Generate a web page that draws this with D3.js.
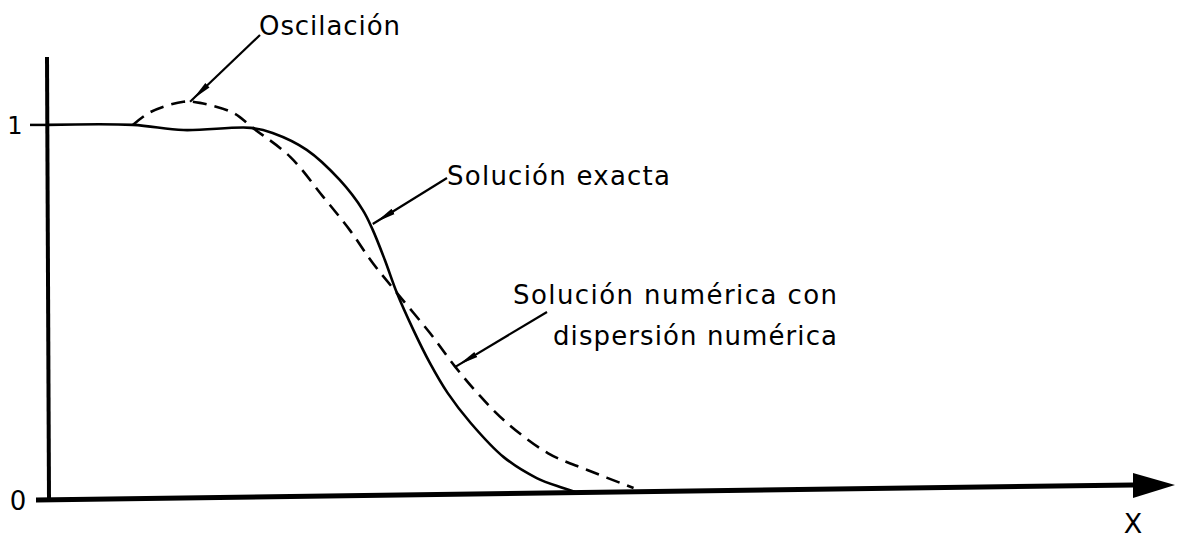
<!DOCTYPE html>
<html>
<head>
<meta charset="utf-8">
<script src="https://cdn.jsdelivr.net/npm/d3@7"></script>
<style>
  body { margin: 0; background: #fff; }
  text { font-family: "DejaVu Sans", sans-serif; fill: #000; }
</style>
</head>
<body>
<div id="chart"></div>
<script>
// curve values (x in arbitrary units, y normalised 0..1)
var exactX = [0, 0.78, 1.24, 1.85, 2.05, 2.36, 2.66, 2.87, 2.96, 3.07, 3.18, 3.33, 3.48, 3.64, 3.85, 4.15, 4.45, 4.69, 4.8];
var exactY = [1, 1, 0.986, 0.992, 0.978, 0.932, 0.85, 0.768, 0.714, 0.632, 0.542, 0.441, 0.351, 0.27, 0.188, 0.095, 0.038, 0.011, 0];

var numX = [0.78, 0.94, 1.24, 1.39, 1.69, 1.87, 2.21, 2.51, 2.75, 2.96, 3.18, 3.48, 3.71, 3.91, 4.15, 4.55, 4.91, 5.33];
var numY = [1, 1.035, 1.063, 1.06, 1.033, 0.992, 0.913, 0.804, 0.714, 0.624, 0.542, 0.433, 0.341, 0.27, 0.196, 0.106, 0.06, 0.011];

var tickValues = [0, 1];
var tickLabels = ["0", "1"];

var width = 1186, height = 538;

var x = d3.scaleLinear().domain([0, 10.25]).range([47, 1175]);
var y = d3.scaleLinear().domain([0, 1.185]).range([492, 57]);

var svg = d3.select("#chart").append("svg")
    .attr("width", width)
    .attr("height", height);

svg.append("defs").append("marker")
    .attr("id", "head")
    .attr("viewBox", "0 0 20 10")
    .attr("refX", 24)
    .attr("refY", 5)
    .attr("markerWidth", 20)
    .attr("markerHeight", 10)
    .attr("markerUnits", "userSpaceOnUse")
    .attr("orient", "auto")
    .append("path")
    .attr("d", "M0,2 L20,5 L0,8 Z")
    .attr("fill", "#000");

// y axis
svg.append("line")
    .attr("x1", x(0)).attr("x2", x(0) + 2)
    .attr("y1", y(1.185)).attr("y2", y(0) + 8)
    .attr("stroke", "#000").attr("stroke-width", 4);

// x axis, a touch tilted like the drawing
svg.append("line")
    .attr("x1", x(0) - 11).attr("y1", y(0) + 8)
    .attr("x2", x(10.25) - 42).attr("y2", y(0) - 7)
    .attr("stroke", "#000").attr("stroke-width", 5);

svg.append("path")
    .attr("d", "M" + (x(10.25) - 42) + "," + (y(0) - 19) +
               " L" + x(10.25) + "," + (y(0) - 7) +
               " L" + (x(10.25) - 42) + "," + (y(0) + 6) + " Z")
    .attr("fill", "#000");

// tick for 1
svg.append("line")
    .attr("x1", x(0) - 17).attr("x2", x(0))
    .attr("y1", y(1)).attr("y2", y(1))
    .attr("stroke", "#000").attr("stroke-width", 2.5);

svg.selectAll(".ylab")
    .data(tickValues)
    .enter().append("text")
    .attr("class", "ylab")
    .attr("x", function(d) { return d === 0 ? 18 : 15; })
    .attr("y", function(d) { return d === 0 ? y(d) + 18 : y(d) + 9; })
    .attr("text-anchor", "middle")
    .style("font-size", function(d) { return d === 0 ? "26px" : "24px"; })
    .text(function(d, i) { return tickLabels[i]; });

svg.append("text")
    .attr("x", 1133).attr("y", 533)
    .attr("text-anchor", "middle")
    .style("font-size", "27px")
    .text("X");

var line = d3.line()
    .x(function(d) { return x(d[0]); })
    .y(function(d) { return y(d[1]); })
    .curve(d3.curveCatmullRom.alpha(0.5));

svg.append("path")
    .datum(d3.zip(exactX, exactY))
    .attr("d", line)
    .attr("fill", "none")
    .attr("stroke", "#000")
    .attr("stroke-width", 2.6);

svg.append("path")
    .datum(d3.zip(numX, numY))
    .attr("d", line)
    .attr("fill", "none")
    .attr("stroke", "#000")
    .attr("stroke-width", 2.6)
    .attr("stroke-dasharray", "14,8");

// annotations: tip on the curve, label start
var notes = [
    { tip: [1.30, 1.063], from: [260, 35], lines: ["Oscilación"], lx: 259, ly: 35, len: [141] },
    { tip: [2.96, 0.73], from: [447, 178], lines: ["Solución exacta"], lx: 447, ly: 185, len: [223] },
    { tip: [3.71, 0.341], from: [547, 312], lines: ["Solución numérica con", "dispersión numérica"], lx: 513, ly: 304, len: [324, 284] }
];

notes.forEach(function(n) {
    svg.append("line")
        .attr("x1", n.from[0]).attr("y1", n.from[1])
        .attr("x2", x(n.tip[0])).attr("y2", y(n.tip[1]))
        .attr("stroke", "#000").attr("stroke-width", 2.2)
        .attr("marker-end", "url(#head)");
    n.lines.forEach(function(t, i) {
        svg.append("text")
            .attr("x", i === 0 ? n.lx : 553)
            .attr("y", n.ly + i * 41)
            .attr("textLength", n.len[i])
            .attr("lengthAdjust", "spacing")
            .style("font-size", "26px")
            .text(t);
    });
});
</script>
</body>
</html>
